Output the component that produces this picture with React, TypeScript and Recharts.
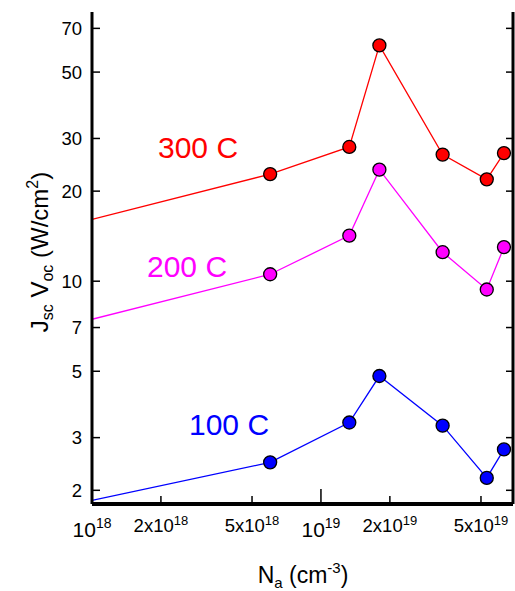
import React from 'react';
import { LineChart, Line, XAxis, YAxis, Customized } from 'recharts';

const FONT = '"Liberation Sans", Arial, sans-serif';

// doping concentration N_a (cm^-3)
const naValues = [1e18, 6e18, 1.33e19, 1.8e19, 3.4e19, 5.3e19, 6.3e19];
// Jsc*Voc (W/cm^2) per temperature
const jv300 = [16.1, 22.8, 28.1, 61.4, 26.5, 21.9, 26.8];
const jv200 = [7.46, 10.55, 14.2, 23.6, 12.5, 9.38, 13.0];
const jv100 = [1.85, 2.48, 3.37, 4.82, 3.29, 2.2, 2.74];

const xTicks = [1e18, 2e18, 5e18, 1e19, 2e19, 5e19];
const xTickPrefix = ['', '2x', '5x', '', '2x', '5x'];
const xTickExp = ['18', '18', '18', '19', '19', '19'];
const yTicks = [2, 3, 5, 7, 10, 20, 30, 50, 70];

const data = naValues.map((na, i) => ({ na, t300: jv300[i], t200: jv200[i], t100: jv100[i] }));

const BottomTick = ({ x, y, payload }: any) => {
  const i = xTicks.indexOf(payload.value);
  const major = xTickPrefix[i] === '';
  return (
    <g>
      <line x1={x} x2={x} y1={y} y2={y - (major ? 15 : 8)} stroke="#000" strokeWidth={1.5} />
      <text x={x} y={y + (major ? 33 : 28)} textAnchor="middle" fill="#000" fontFamily={FONT}>
        <tspan fontSize={major ? 21 : 18.5}>{xTickPrefix[i]}10</tspan>
        <tspan fontSize={major ? 14 : 13} dy={major ? -9 : -7}>{xTickExp[i]}</tspan>
      </text>
    </g>
  );
};

const TopTick = ({ x, y, payload }: any) => {
  const i = xTicks.indexOf(payload.value);
  const major = xTickPrefix[i] === '';
  return <line x1={x} x2={x} y1={y} y2={y + (major ? 13 : 6)} stroke="#000" strokeWidth={1.5} />;
};

const LeftTick = ({ x, y, payload }: any) => (
  <g>
    <line x1={x} x2={x + 8} y1={y} y2={y} stroke="#000" strokeWidth={1.5} />
    <text x={x - 10} y={y} dy="0.36em" textAnchor="end" fontSize={18.5} fill="#000" fontFamily={FONT}>
      {payload.value}
    </text>
  </g>
);

const RightTick = ({ x, y }: any) => (
  <line x1={x} x2={x - 7} y1={y} y2={y} stroke="#000" strokeWidth={1.5} />
);

const makeDot = (color: string) => (props: any) => {
  const { cx, cy, index } = props;
  if (index === 0) return <g key={`d${index}`} />;
  return <circle key={`d${index}`} cx={cx} cy={cy} r={6.5} fill={color} stroke="#000" strokeWidth={1.3} />;
};

const Annotations = () => (
  <g fontFamily={FONT}>
    <text x={158} y={158} fontSize={30} fill="#ff0000">300 C</text>
    <text x={147} y={277} fontSize={30} fill="#ff00ff">200 C</text>
    <text x={189} y={435} fontSize={30} fill="#0000ff">100 C</text>
    <text x={303} y={583} textAnchor="middle" fontSize={23} fill="#000">
      N<tspan fontSize={15} dy={5}>a</tspan>
      <tspan dy={-5}> (cm</tspan>
      <tspan fontSize={15} dy={-10}>-3</tspan>
      <tspan dy={10}>)</tspan>
    </text>
    <text x={48} y={252} transform="rotate(-90 48 252)" textAnchor="middle" fontSize={24} fill="#000">
      J<tspan fontSize={16} dy={5}>sc</tspan>
      <tspan dy={-5}> V</tspan>
      <tspan fontSize={16} dy={5}>oc</tspan>
      <tspan dy={-5}> (W/cm</tspan>
      <tspan fontSize={16} dy={-10}>2</tspan>
      <tspan dy={10}>)</tspan>
    </text>
  </g>
);

export default function App() {
  return (
    <div style={{ position: 'absolute', left: 0, top: 0, background: '#fff' }}>
      <LineChart width={515} height={591} data={data} margin={{ top: 12, right: 0, left: 0, bottom: 0 }}>
        <XAxis
          dataKey="na"
          type="number"
          scale="log"
          domain={[1e18, 6.9e19]}
          allowDataOverflow
          ticks={xTicks}
          interval={0}
          height={87}
          tickSize={0}
          tickMargin={0}
          tickLine={false}
          tick={<BottomTick />}
          axisLine={{ stroke: '#000', strokeWidth: 4 }}
        />
        <XAxis
          xAxisId="top"
          orientation="top"
          dataKey="na"
          type="number"
          scale="log"
          domain={[1e18, 6.9e19]}
          allowDataOverflow
          ticks={xTicks}
          interval={0}
          height={0}
          tickSize={0}
          tickMargin={0}
          tickLine={false}
          tick={<TopTick />}
          axisLine={{ stroke: '#000', strokeWidth: 3 }}
        />
        <YAxis
          type="number"
          scale="log"
          domain={[1.8, 79.4]}
          allowDataOverflow
          ticks={yTicks}
          interval={0}
          width={92}
          tickSize={0}
          tickMargin={0}
          tickLine={false}
          tick={<LeftTick />}
          axisLine={{ stroke: '#000', strokeWidth: 3 }}
        />
        <YAxis
          yAxisId="right"
          orientation="right"
          type="number"
          scale="log"
          domain={[1.8, 79.4]}
          allowDataOverflow
          ticks={yTicks}
          interval={0}
          width={2}
          tickSize={0}
          tickMargin={0}
          tickLine={false}
          tick={<RightTick />}
          axisLine={{ stroke: '#000', strokeWidth: 3 }}
        />
        <Line dataKey="t300" stroke="#ff0000" strokeWidth={1.3} dot={makeDot('#ff0000')} isAnimationActive={false} />
        <Line dataKey="t200" stroke="#ff00ff" strokeWidth={1.3} dot={makeDot('#ff00ff')} isAnimationActive={false} />
        <Line dataKey="t100" stroke="#0000ff" strokeWidth={1.3} dot={makeDot('#0000ff')} isAnimationActive={false} />
        <Customized component={Annotations} />
      </LineChart>
    </div>
  );
}
